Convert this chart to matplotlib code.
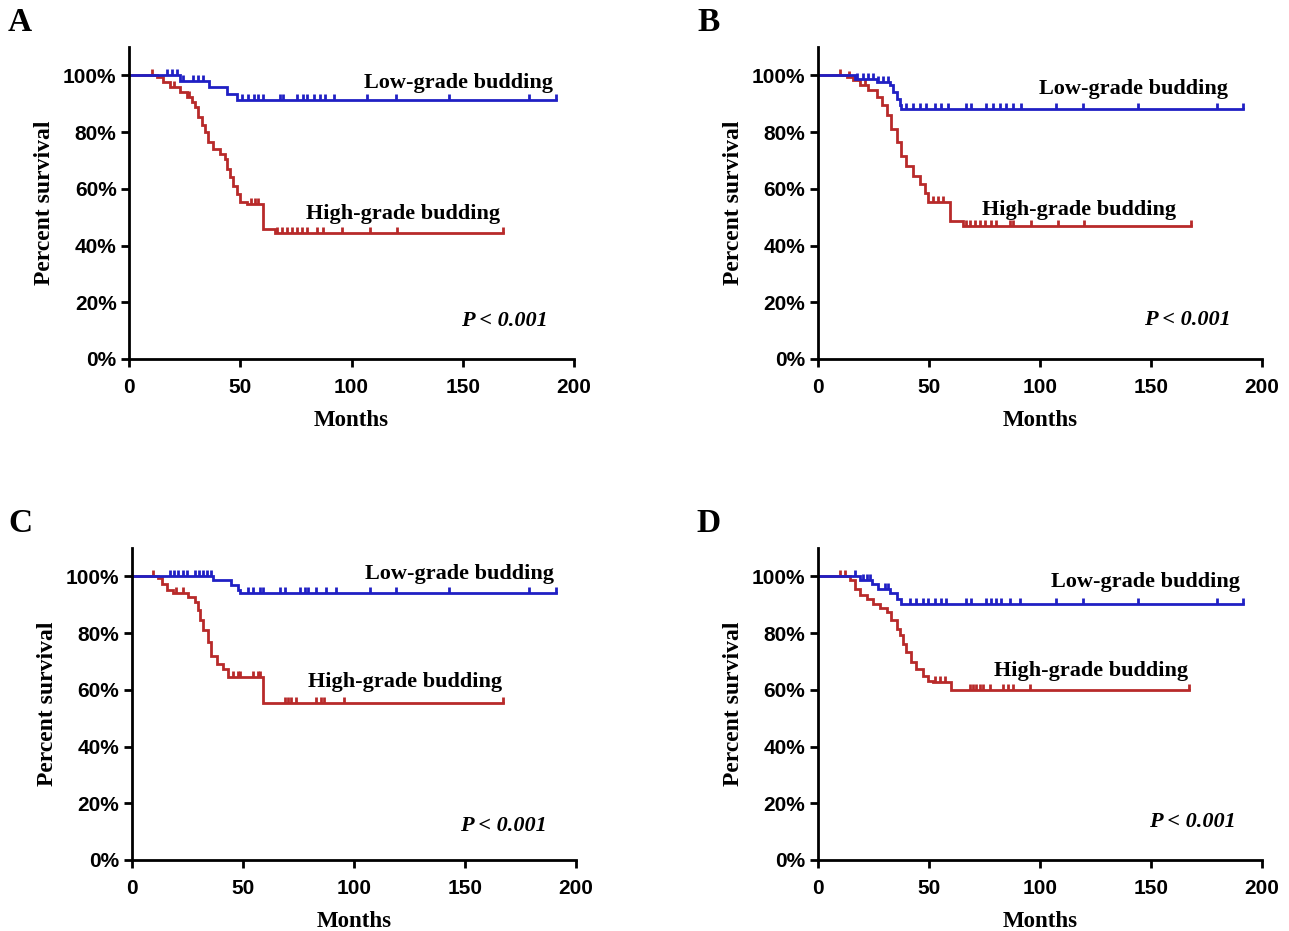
import numpy as np
import matplotlib
matplotlib.use('Agg')
import matplotlib.pyplot as plt
from matplotlib.path import Path

# curvas de Kaplan-Meier (meses, % supervivencia)
# A
a_low_t = [23, 36, 44, 48.5]
a_low_s = [98, 96, 93.6, 91.5]
a_low_c = [16.9, 19.2, 21.4, 24.4, 28.9, 31.2, 33.4, 51, 53.5, 56, 58, 60, 68, 69, 75.5, 78, 80, 83, 86, 88, 92,
           107, 120, 144, 180, 192]
a_high_t = [12.4, 15.4, 18.4, 22.9, 25.9, 28.2, 29.7, 31.2, 32.7, 34.2, 35.7, 37.9, 40.9, 43.1, 43.9, 45.4, 46.9,
            48.4, 49.9, 52.9, 60.4, 65.6]
a_high_s = [99.5, 97.8, 96, 94.2, 92.4, 90.7, 88.9, 85.3, 82.4, 80, 76.5, 74.1, 72.3, 70.6, 67, 64.1, 61.1, 58.2,
            55.2, 54.5, 45.7, 44.3]
a_high_c = [10.5, 20, 27, 55, 56.6, 58, 66.4, 68.6, 70.9, 73.1, 75.4, 77.6, 79.9, 84.4, 87.3, 95.6, 108.3, 120.3,
            168.2]

# B
b_low_t = [16.6, 26.4, 32.4, 33.9, 35.4, 36.9, 37.6]
b_low_s = [98.9, 97.8, 96.6, 94.2, 91.8, 89.5, 88.3]
b_low_c = [17.4, 20.4, 22.6, 24.9, 27.1, 29.4, 31.6, 39.8, 42.8, 45.8, 48.8, 52.6, 55.6, 58.6, 66.8, 69.1, 75.8,
           78.8, 81.8, 84.8, 87.8, 91.5, 107.3, 119.2, 144, 179.9, 191.2]
b_high_t = [12.9, 15.9, 18.9, 22.6, 26.4, 28.6, 30.9, 33.1, 35.4, 37.6, 39.8, 42.8, 45.8, 48.1, 49.6, 59.3, 65.3]
b_high_s = [99.5, 98.3, 96.6, 94.8, 92.4, 89.5, 85.9, 81.2, 76.5, 71.7, 68.2, 64.7, 61.7, 58.7, 55.5, 48.8, 46.9]
b_high_c = [9.9, 14, 21, 51.9, 54.1, 56.3, 66.8, 68.3, 70.6, 72.8, 75.1, 78.1, 80.3, 86.3, 87.8, 96.0, 108.0,
            120.0, 167.9]

# C
c_low_t = [36.6, 44.8, 47.8, 48.5]
c_low_s = [98.7, 96.9, 95.2, 94]
c_low_c = [17.1, 18.9, 20.8, 22.8, 24.6, 28.3, 30.1, 32.1, 33.9, 35.4, 52.3, 54.5, 57.5, 59, 66.5, 68.8, 75.5,
           77.8, 79.3, 83, 87.5, 92, 107, 119, 142.9, 178.8, 190.9]
c_high_t = [11.8, 13.3, 15.6, 18.6, 25.3, 28.3, 29.8, 30.6, 32.1, 34.3, 35.8, 38.1, 41, 43.3, 59]
c_high_s = [99.3, 97.5, 95.2, 94, 92.8, 91, 88.1, 84.5, 81, 76.8, 72.1, 69.1, 67.4, 64.4, 55.2]
c_high_c = [9.6, 20, 23, 45.5, 47.7, 48.5, 54.5, 56.8, 57.5, 68.8, 70.3, 71.8, 74, 83, 85.2, 86.7, 95.7, 166.9]

# D
d_low_t = [18.9, 24.1, 27.1, 32.4, 35.4, 37.6]
d_low_s = [98.7, 97.5, 95.7, 94, 92.2, 90.4]
d_low_c = [16.6, 20.4, 21.9, 23.4, 30.1, 31.6, 41.3, 44.3, 47.3, 49.6, 52.6, 55.6, 57.8, 66.8, 69.1, 75.8, 78,
           80.3, 82.5, 86.3, 90.8, 107.3, 119.2, 144, 179.9, 191.2]
d_high_t = [14.5, 16.6, 18.9, 21.9, 24.9, 27.9, 30.9, 33.1, 35.4, 36.9, 38.4, 39.8, 42.1, 44.3, 47.3, 49.6, 52,
            60.1]
d_high_s = [98.7, 95.7, 93.4, 92.2, 90.4, 88.7, 87.5, 84.5, 81.6, 79.2, 76.2, 73.3, 69.7, 67.4, 65, 63.2, 62.6,
            59.9]
d_high_c = [9.9, 12, 52.6, 54.8, 57.1, 68.3, 69.8, 71.3, 72.8, 74.3, 77.3, 83.3, 85.5, 87.8, 95.3, 167.2]

paneles = ['A', 'B', 'C', 'D']
curvas = [(a_low_t, a_low_s, a_low_c, a_high_t, a_high_s, a_high_c),
          (b_low_t, b_low_s, b_low_c, b_high_t, b_high_s, b_high_c),
          (c_low_t, c_low_s, c_low_c, c_high_t, c_high_s, c_high_c),
          (d_low_t, d_low_s, d_low_c, d_high_t, d_high_s, d_high_c)]
# posiciones de los textos (meses, %)
pos_low = [(190.5, 97.2), (184.7, 95.4), (190, 100.7), (190, 98.2)]
pos_high = [(166.7, 51), (161.3, 52.5), (166.7, 62.8), (166.7, 66.7)]
pos_p = [(188, 13.5), (186, 13.8), (187, 12), (188, 13.5)]

azul = '#2020c4'
rojo = '#b82a2a'
serif = 'Liberation Serif'
sans = 'Liberation Sans'

# marca de censura: linea vertical hacia arriba
tick = Path([(0, 0), (0, 1)], [Path.MOVETO, Path.LINETO])


def curva_km(ax, t, s, cens, color):
    t = np.array(t)
    s = np.array(s)
    cens = np.array(cens)
    x = np.concatenate([[0], t, [cens.max()]])
    y = np.concatenate([[100], s, [s[-1]]])
    ax.step(x, y, where='post', color=color, lw=2, solid_joinstyle='miter')
    niveles = np.concatenate([[100], s])[np.searchsorted(t, cens, side='right')]
    ax.plot(cens, niveles, ls='none', marker=tick, ms=9, mew=2, mec=color, mfc='none')


fig = plt.figure(figsize=(12.89, 9.31), dpi=100)
rects = [[0.1001, 0.6144, 0.3452, 0.335], [0.6346, 0.6144, 0.3445, 0.335],
         [0.1024, 0.0763, 0.3445, 0.335], [0.6346, 0.0763, 0.3445, 0.335]]
letras_xy = [(0.0155, 0.976), (0.5496, 0.976), (0.0155, 0.438), (0.5496, 0.438)]

for i in range(4):
    ax = fig.add_axes(rects[i])
    lt, ls_, lc, ht, hs, hc = curvas[i]
    curva_km(ax, ht, hs, hc, rojo)
    curva_km(ax, lt, ls_, lc, azul)
    ax.set_xlim(0, 200)
    ax.set_ylim(0, 110)
    ax.set_xticks([0, 50, 100, 150, 200])
    ax.set_yticks([0, 20, 40, 60, 80, 100])
    ax.set_yticklabels(['0%', '20%', '40%', '60%', '80%', '100%'])
    for sp in ['top', 'right']:
        ax.spines[sp].set_visible(False)
    for sp in ['left', 'bottom']:
        ax.spines[sp].set_linewidth(2)
    ax.tick_params(width=2, length=6, labelsize=15, pad=3)
    ax.tick_params(axis='x', pad=8)
    for lab in ax.get_xticklabels() + ax.get_yticklabels():
        lab.set_fontfamily(sans)
        lab.set_fontweight('bold')
    ax.set_xlabel('Months', family=serif, weight='bold', fontsize=16.5, labelpad=9)
    ax.set_ylabel('Percent survival', family=serif, weight='bold', fontsize=17, labelpad=6)
    ax.text(pos_low[i][0], pos_low[i][1], 'Low-grade budding', family=serif, weight='bold',
            fontsize=16, ha='right', va='center')
    ax.text(pos_high[i][0], pos_high[i][1], 'High-grade budding', family=serif, weight='bold',
            fontsize=16, ha='right', va='center')
    ax.text(pos_p[i][0], pos_p[i][1], 'P < 0.001', family=serif, weight='bold', style='italic',
            fontsize=16, ha='right', va='center')
    fig.text(letras_xy[i][0], letras_xy[i][1], paneles[i], family=serif, weight='bold', fontsize=24,
             ha='center', va='center')

fig.savefig('out.png', dpi=100)
